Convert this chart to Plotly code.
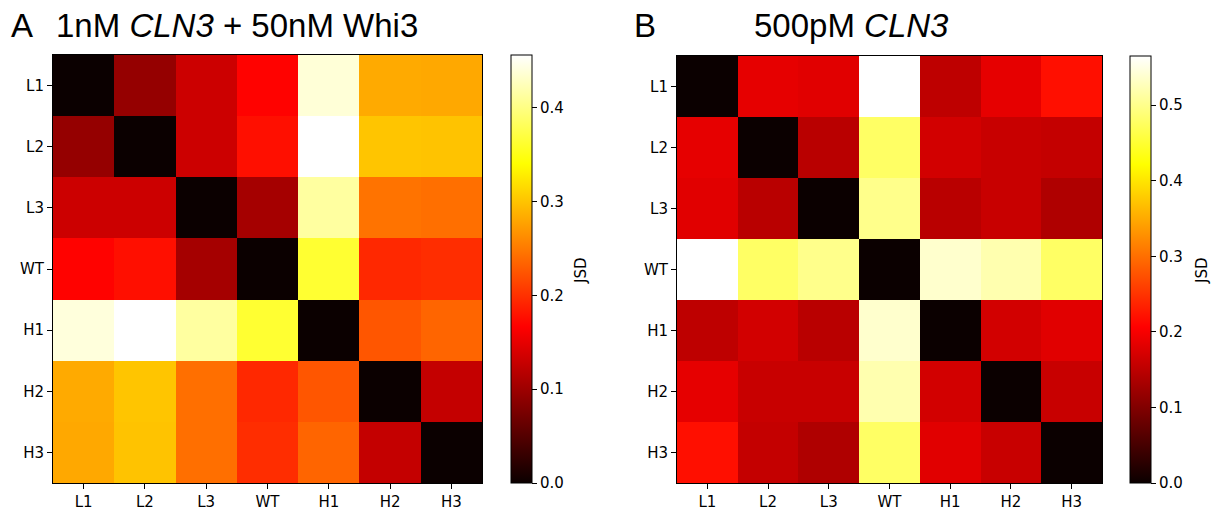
import plotly.graph_objects as go

labels = ["L1", "L2", "L3", "WT", "H1", "H2", "H3"]

jsd_a = [
    [0.000, 0.094, 0.132, 0.168, 0.438, 0.282, 0.281],
    [0.094, 0.000, 0.132, 0.177, 0.456, 0.301, 0.299],
    [0.132, 0.132, 0.000, 0.105, 0.413, 0.245, 0.242],
    [0.168, 0.177, 0.105, 0.000, 0.363, 0.194, 0.197],
    [0.440, 0.456, 0.413, 0.363, 0.000, 0.225, 0.235],
    [0.282, 0.301, 0.242, 0.194, 0.225, 0.000, 0.126],
    [0.281, 0.299, 0.242, 0.197, 0.235, 0.126, 0.000],
]

jsd_b = [
    [0.000, 0.185, 0.181, 0.565, 0.151, 0.185, 0.219],
    [0.185, 0.000, 0.147, 0.478, 0.168, 0.160, 0.156],
    [0.181, 0.147, 0.000, 0.500, 0.147, 0.160, 0.139],
    [0.565, 0.478, 0.500, 0.000, 0.537, 0.520, 0.478],
    [0.151, 0.168, 0.147, 0.537, 0.000, 0.168, 0.181],
    [0.185, 0.160, 0.160, 0.520, 0.168, 0.000, 0.160],
    [0.219, 0.156, 0.139, 0.478, 0.181, 0.160, 0.000],
]

vmax_a = 0.456
vmax_b = 0.565
cbar_ticks_a = [0.0, 0.1, 0.2, 0.3, 0.4]
cbar_ticks_b = [0.0, 0.1, 0.2, 0.3, 0.4, 0.5]

hot = [
    [0.0, "rgb(11,0,0)"],
    [0.365079, "rgb(255,0,0)"],
    [0.746032, "rgb(255,255,0)"],
    [1.0, "rgb(255,255,255)"],
]

W, H = 1221, 512
tickfont = dict(family="DejaVu Sans", size=15, color="black")


def px_x(p):
    return p / W


def px_y(p):
    return 1 - p / H


fig = go.Figure()

def cbar(x_left, top, bottom, ticks):
    return dict(
        x=px_x(x_left), xanchor="left", xref="paper",
        y=px_y(bottom), yanchor="bottom", yref="paper",
        len=bottom - top, lenmode="pixels",
        thickness=21, thicknessmode="pixels",
        outlinecolor="black", outlinewidth=1,
        ticks="outside", ticklen=5, tickcolor="black", tickwidth=1,
        tickvals=ticks, tickformat=".1f", tickfont=tickfont,
        xpad=0, ypad=0,
    )

fig.add_trace(go.Heatmap(
    z=jsd_a, x=labels, y=labels, colorscale=hot, zmin=0, zmax=vmax_a,
    xaxis="x", yaxis="y", colorbar=cbar(511, 55, 483, cbar_ticks_a),
))
fig.add_trace(go.Heatmap(
    z=jsd_b, x=labels, y=labels, colorscale=hot, zmin=0, zmax=vmax_b,
    xaxis="x2", yaxis="y2", colorbar=cbar(1130, 56, 483, cbar_ticks_b),
))

axis_common = dict(
    showline=True, mirror=True, linecolor="black", linewidth=1,
    ticks="outside", ticklen=5, tickcolor="black", tickwidth=1,
    tickfont=tickfont, showgrid=False, zeroline=False,
)

fig.update_layout(
    width=W, height=H,
    margin=dict(l=0, r=0, t=0, b=0),
    paper_bgcolor="white", plot_bgcolor="white",
    xaxis=dict(domain=[px_x(53), px_x(482)], anchor="y", **axis_common),
    yaxis=dict(domain=[px_y(483), px_y(55)], anchor="x", autorange="reversed", **axis_common),
    xaxis2=dict(domain=[px_x(677), px_x(1102)], anchor="y2", **axis_common),
    yaxis2=dict(domain=[px_y(483), px_y(56)], anchor="x2", autorange="reversed", **axis_common),
    font=dict(family="Liberation Sans", color="black"),
)

title_font = dict(family="Liberation Sans", size=33, color="black")
fig.add_annotation(text="A", x=px_x(9), y=px_y(25), xref="paper", yref="paper",
                   xanchor="left", yanchor="middle", showarrow=False, font=title_font)
fig.add_annotation(text="1nM <i>CLN3</i> + 50nM Whi3", x=px_x(54), y=px_y(25), xref="paper", yref="paper",
                   xanchor="left", yanchor="middle", showarrow=False, font=title_font)
fig.add_annotation(text="B", x=px_x(632), y=px_y(25), xref="paper", yref="paper",
                   xanchor="left", yanchor="middle", showarrow=False, font=title_font)
fig.add_annotation(text="500pM <i>CLN3</i>", x=px_x(752), y=px_y(25), xref="paper", yref="paper",
                   xanchor="left", yanchor="middle", showarrow=False, font=title_font)

jsd_font = dict(family="DejaVu Sans", size=15, color="black")
for xc in (581, 1202):
    fig.add_annotation(text="JSD", x=px_x(xc), y=px_y(271), xref="paper", yref="paper",
                       xanchor="center", yanchor="middle", textangle=-90, showarrow=False,
                       font=jsd_font)

fig.write_html("out.html")
